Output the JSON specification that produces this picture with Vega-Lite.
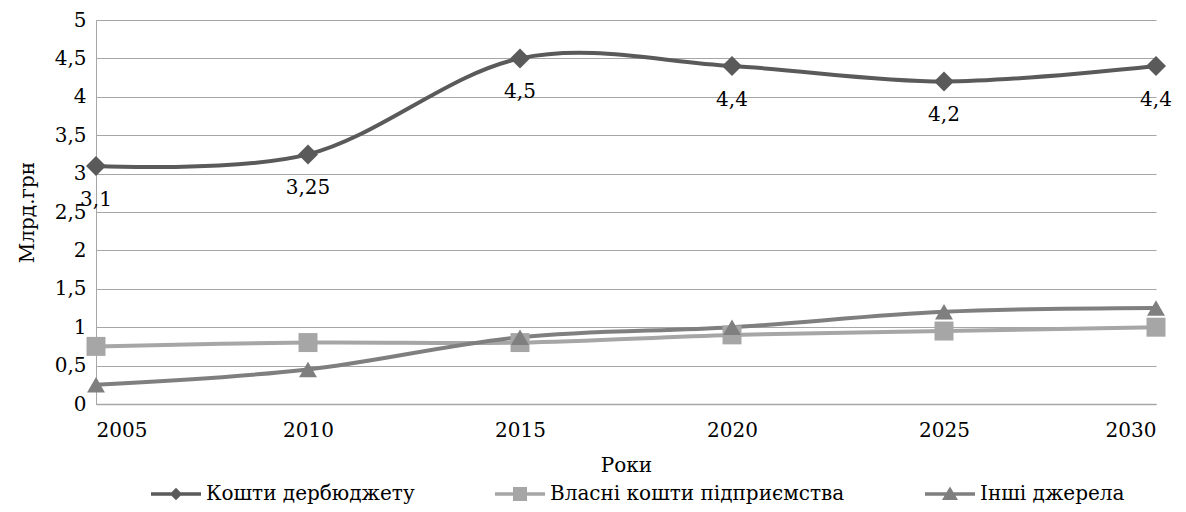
{
  "$schema": "https://vega.github.io/schema/vega-lite/v6.json",
  "width": 1060,
  "height": 384,
  "autosize": {"type": "none"},
  "padding": {"left": 96, "top": 20, "right": 30, "bottom": 108},
  "background": "white",
  "config": {
    "font": "DejaVu Serif",
    "view": {"stroke": null},
    "locale": {"number": {"decimal": ",", "thousands": " ", "grouping": [3], "currency": ["", ""]}},
    "text": {"font": "DejaVu Serif"},
    "axis": {"labelFont": "DejaVu Serif", "titleFont": "DejaVu Serif", "labelFontSize": 20, "titleFontSize": 20, "labelColor": "#000000", "titleColor": "#000000", "titleFontWeight": "normal", "ticks": false, "domainColor": "#a6a6a6", "gridColor": "#a6a6a6"},
    "legend": {"labelFont": "DejaVu Serif", "labelFontSize": 20, "labelColor": "#000000", "labelLimit": 0}
  },
  "data": {
    "values": [
      {"year": 2005, "series": "Кошти дербюджету", "value": 3.1},
      {"year": 2010, "series": "Кошти дербюджету", "value": 3.25},
      {"year": 2015, "series": "Кошти дербюджету", "value": 4.5},
      {"year": 2020, "series": "Кошти дербюджету", "value": 4.4},
      {"year": 2025, "series": "Кошти дербюджету", "value": 4.2},
      {"year": 2030, "series": "Кошти дербюджету", "value": 4.4},
      {"year": 2005, "series": "Власні кошти підприємства", "value": 0.75},
      {"year": 2010, "series": "Власні кошти підприємства", "value": 0.8},
      {"year": 2015, "series": "Власні кошти підприємства", "value": 0.8},
      {"year": 2020, "series": "Власні кошти підприємства", "value": 0.9},
      {"year": 2025, "series": "Власні кошти підприємства", "value": 0.95},
      {"year": 2030, "series": "Власні кошти підприємства", "value": 1.0},
      {"year": 2005, "series": "Інші джерела", "value": 0.25},
      {"year": 2010, "series": "Інші джерела", "value": 0.45},
      {"year": 2015, "series": "Інші джерела", "value": 0.87},
      {"year": 2020, "series": "Інші джерела", "value": 1.0},
      {"year": 2025, "series": "Інші джерела", "value": 1.2},
      {"year": 2030, "series": "Інші джерела", "value": 1.25}
    ]
  },
  "encoding": {
    "x": {"field": "year", "type": "quantitative",
      "scale": {"domain": [2005, 2030], "nice": false, "zero": false},
      "axis": {"values": [2005, 2010, 2015, 2020, 2025, 2030], "format": "d", "grid": false, "title": "Роки", "labelPadding": 16, "titlePadding": 15, "domainWidth": 1.5}},
    "y": {"field": "value", "type": "quantitative",
      "scale": {"domain": [0, 5], "nice": false},
      "axis": {"values": [0, 0.5, 1, 1.5, 2, 2.5, 3, 3.5, 4, 4.5, 5], "format": "~g", "grid": true, "title": "Млрд.грн", "labelPadding": 10, "titlePadding": 17}}
  },
  "layer": [
    {
      "mark": {"type": "line", "interpolate": "cardinal", "strokeWidth": 4},
      "encoding": {
        "detail": {"field": "series"},
        "color": {"field": "series", "type": "nominal",
          "scale": {"domain": ["Кошти дербюджету", "Власні кошти підприємства", "Інші джерела"], "range": ["#5a5a5a", "#a6a6a6", "#7f7f7f"]},
          "legend": null}
      }
    },
    {
      "mark": {"type": "point", "filled": true, "opacity": 1},
      "encoding": {
        "color": {"field": "series", "type": "nominal",
          "scale": {"domain": ["Кошти дербюджету", "Власні кошти підприємства", "Інші джерела"], "range": ["#5a5a5a", "#a6a6a6", "#7f7f7f"]},
          "legend": null},
        "shape": {"field": "series", "type": "nominal",
          "scale": {"domain": ["Кошти дербюджету", "Власні кошти підприємства", "Інші джерела"], "range": ["diamond", "square", "triangle-up"]},
          "legend": null},
        "size": {"field": "series", "type": "nominal",
          "scale": {"domain": ["Кошти дербюджету", "Власні кошти підприємства", "Інші джерела"], "range": [400, 320, 450]},
          "legend": null}
      }
    },
    {
      "transform": [{"filter": "datum.series == 'Кошти дербюджету'"}],
      "mark": {"type": "text", "dy": 34, "fontSize": 20, "color": "#000000", "font": "DejaVu Serif"},
      "encoding": {
        "text": {"field": "value", "type": "quantitative", "format": "~g"}
      }
    },
    {
      "transform": [{"filter": "false"}],
      "mark": {"type": "point", "filled": true, "opacity": 1},
      "encoding": {
        "color": {"field": "series", "type": "nominal",
          "scale": {"domain": ["Кошти дербюджету", "Власні кошти підприємства", "Інші джерела"], "range": ["#5a5a5a", "#a6a6a6", "#7f7f7f"]},
          "legend": {"orient": "none", "legendX": 70, "legendY": 464, "direction": "horizontal", "title": null, "symbolSize": 400, "symbolStrokeWidth": 0, "labelOffset": 20, "columnPadding": 80, "gridAlign": "each", "symbolOpacity": 1}},
        "shape": {"field": "series", "type": "nominal",
          "scale": {"domain": ["Кошти дербюджету", "Власні кошти підприємства", "Інші джерела"], "range": [
            "M-2.5,-0.18H2.5V0.18H-2.5Z M0,-0.62L0.62,0L0,0.62L-0.62,0Z",
            "M-2.5,-0.18H2.5V0.18H-2.5Z M-0.7,-0.7H0.7V0.7H-0.7Z",
            "M-2.5,-0.18H2.5V0.18H-2.5Z M0,-0.75L0.8,0.6L-0.8,0.6Z"]},
          "legend": {"orient": "none", "legendX": 70, "legendY": 464, "direction": "horizontal", "title": null, "symbolSize": 400, "symbolStrokeWidth": 0, "labelOffset": 20, "columnPadding": 80, "gridAlign": "each", "symbolOpacity": 1}}
      }
    }
  ],
  "resolve": {"scale": {"color": "independent", "shape": "independent", "size": "independent"}}
}
